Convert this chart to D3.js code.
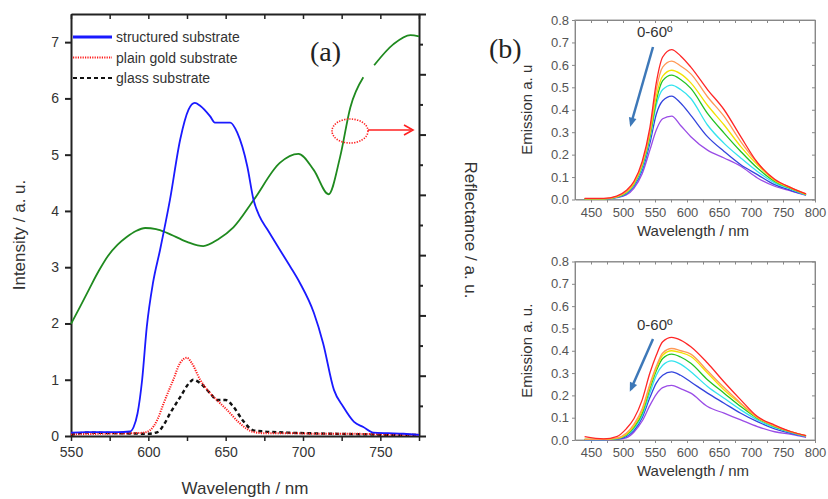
<!DOCTYPE html>
<html>
<head>
<meta charset="utf-8">
<script src="https://cdn.jsdelivr.net/npm/d3@7"></script>
<style>
  body { margin: 0; background: #fff; }
  svg { display: block; font-family: "Liberation Sans", Arial, sans-serif; }
  .axis text { fill: #333; }
  .axis path, .axis line { stroke: #222; }
  .paneB .axis text { fill: #555; }
  .paneB .axis path, .paneB .axis line { stroke: #888; }
</style>
</head>
<body>
<svg id="chart" width="828" height="499"></svg>
<script>
"use strict";

// panel (a): emission spectra
const structuredNm = [550, 560, 570, 580, 588, 590.5, 593, 596, 599, 603, 607.6, 614, 620.6, 626, 630, 633.5, 640, 643, 653, 657.5, 664, 668, 672, 677, 685, 692, 698, 707, 713, 720, 726, 733, 739, 745.5, 755, 765, 775];
const structuredInt = [0.06, 0.07, 0.07, 0.07, 0.08, 0.16, 0.4, 1.0, 1.94, 2.72, 3.31, 4.2, 5.27, 5.8, 5.92, 5.87, 5.68, 5.57, 5.57, 5.39, 4.79, 4.2, 3.9, 3.67, 3.31, 3.0, 2.72, 2.19, 1.65, 0.82, 0.52, 0.25, 0.16, 0.06, 0.05, 0.04, 0.02];

const goldNm = [550, 570, 590, 597, 601, 606, 610, 616, 620.6, 625, 628, 633.5, 640, 645, 651, 659, 668, 675, 690, 710, 730, 750, 775];
const goldInt = [0.03, 0.04, 0.05, 0.06, 0.1, 0.3, 0.59, 0.99, 1.3, 1.39, 1.3, 1.0, 0.76, 0.62, 0.46, 0.23, 0.07, 0.05, 0.05, 0.04, 0.04, 0.03, 0.02];

const glassNm = [550, 560, 580, 600, 606, 610, 614, 620.6, 627, 629, 633.5, 640, 644.5, 650, 655, 661, 668, 675, 690, 720, 740, 760, 775];
const glassInt = [0.02, 0.06, 0.05, 0.04, 0.07, 0.2, 0.4, 0.69, 0.96, 1.0, 0.94, 0.76, 0.64, 0.64, 0.52, 0.28, 0.1, 0.08, 0.06, 0.04, 0.03, 0.02, 0.02];

// reflectance (right axis), null = gap in the trace
const reflNm = [550, 556, 562, 568, 574, 580, 586, 592, 598, 605, 612, 625, 635.5, 645, 655, 668, 685, 697, 707, 716.5, 724, 730.6, 739, 742, 746, 758.5, 769.5, 775];
const reflVal = [1.86, 2.15, 2.45, 2.74, 2.99, 3.17, 3.3, 3.4, 3.45, 3.43, 3.37, 3.22, 3.15, 3.26, 3.46, 3.91, 4.53, 4.68, 4.41, 4.01, 4.63, 5.45, 5.95, null, 6.15, 6.5, 6.65, 6.63];

const legendLabels = ["structured substrate", "plain gold substrate", "glass substrate"];

// panel (b): angle dependent emission, 0-60 degrees
const emNm = [440, 470, 490, 505, 517, 530, 542, 552, 562, 576, 590, 606, 632, 658, 684, 710, 737, 763, 786];
const angleColors = ["#ff2626", "#ff9955", "#f2e200", "#22c322", "#33e3ee", "#3344dd", "#9a4ce6"];

const topRed = [0.005, 0.005, 0.015, 0.04, 0.08, 0.17, 0.32, 0.52, 0.635, 0.668, 0.64, 0.59, 0.49, 0.40, 0.28, 0.165, 0.09, 0.052, 0.025];
const topOrange = [0.004, 0.004, 0.013, 0.035, 0.075, 0.16, 0.30, 0.49, 0.59, 0.617, 0.595, 0.56, 0.458, 0.37, 0.258, 0.163, 0.088, 0.052, 0.025];
const topYellow = [0.003, 0.003, 0.012, 0.032, 0.07, 0.155, 0.29, 0.46, 0.55, 0.576, 0.56, 0.52, 0.42, 0.332, 0.236, 0.155, 0.085, 0.05, 0.023];
const topGreen = [0.003, 0.003, 0.011, 0.03, 0.068, 0.15, 0.28, 0.44, 0.53, 0.554, 0.535, 0.495, 0.384, 0.296, 0.214, 0.14, 0.081, 0.048, 0.022];
const topCyan = [0.003, 0.003, 0.01, 0.028, 0.064, 0.14, 0.27, 0.42, 0.49, 0.51, 0.49, 0.45, 0.332, 0.25, 0.185, 0.125, 0.074, 0.045, 0.02];
const topBlue = [0.002, 0.002, 0.009, 0.025, 0.058, 0.13, 0.25, 0.38, 0.44, 0.461, 0.43, 0.375, 0.28, 0.214, 0.155, 0.111, 0.066, 0.04, 0.02];
const topViolet = [0.002, 0.002, 0.008, 0.02, 0.05, 0.115, 0.22, 0.31, 0.36, 0.372, 0.33, 0.28, 0.22, 0.185, 0.148, 0.096, 0.059, 0.037, 0.018];

const bottomRed = [0.015, 0.005, 0.015, 0.05, 0.095, 0.18, 0.30, 0.38, 0.44, 0.46, 0.448, 0.418, 0.345, 0.26, 0.18, 0.105, 0.067, 0.037, 0.02];
const bottomOrange = [0.003, 0.003, 0.008, 0.03, 0.07, 0.14, 0.25, 0.33, 0.39, 0.41, 0.40, 0.385, 0.31, 0.235, 0.165, 0.102, 0.063, 0.036, 0.019];
const bottomYellow = [0.003, 0.003, 0.007, 0.025, 0.062, 0.13, 0.24, 0.32, 0.38, 0.40, 0.392, 0.374, 0.30, 0.224, 0.161, 0.1, 0.062, 0.036, 0.018];
const bottomGreen = [0.003, 0.003, 0.006, 0.022, 0.057, 0.12, 0.23, 0.31, 0.365, 0.385, 0.372, 0.344, 0.27, 0.21, 0.15, 0.097, 0.06, 0.035, 0.018];
const bottomCyan = [0.002, 0.002, 0.005, 0.02, 0.05, 0.11, 0.21, 0.29, 0.335, 0.355, 0.34, 0.306, 0.24, 0.187, 0.135, 0.09, 0.055, 0.033, 0.016];
const bottomBlue = [0.002, 0.002, 0.004, 0.015, 0.042, 0.10, 0.19, 0.255, 0.29, 0.305, 0.29, 0.26, 0.21, 0.165, 0.12, 0.082, 0.05, 0.03, 0.015];
const bottomViolet = [0.002, 0.002, 0.003, 0.01, 0.035, 0.085, 0.155, 0.205, 0.235, 0.245, 0.23, 0.21, 0.15, 0.12, 0.09, 0.06, 0.037, 0.025, 0.012];

const svg = d3.select("#chart");

// ---------- panel (a) ----------
const A = { left: 71, right: 419, top: 14, bottom: 436 };
const xA = d3.scaleLinear().domain([550, 775]).range([A.left, A.right]);
const yInt = d3.scaleLinear().domain([0, 7.5]).range([A.bottom, A.top]);
const yRefl = d3.scaleLinear().domain([0, 7]).range([A.bottom, A.top]);

const paneA = svg.append("g").attr("class", "paneA");
const nmTicks = d3.range(550, 776, 25);

paneA.append("g").attr("class", "axis")
  .attr("transform", `translate(0,${A.bottom})`)
  .call(d3.axisBottom(xA).tickValues(nmTicks).tickSize(5).tickSizeOuter(0)
    .tickFormat((d) => (d % 50 === 0 ? d : "")))
  .call((g) => g.selectAll("text").attr("font-size", 14).attr("dy", "0.9em"))
  .call((g) => g.selectAll("line").attr("stroke-width", 1.5))
  .call((g) => g.select(".domain").attr("stroke-width", 2));

paneA.append("g").attr("class", "axis")
  .attr("transform", `translate(0,${A.top})`)
  .call(d3.axisBottom(xA).tickValues(nmTicks).tickSize(5).tickSizeOuter(0).tickFormat(""))
  .call((g) => g.selectAll("line").attr("stroke-width", 1.5))
  .call((g) => g.select(".domain").attr("stroke-width", 2));

paneA.append("g").attr("class", "axis")
  .attr("transform", `translate(${A.left},0)`)
  .call(d3.axisLeft(yInt).tickValues(d3.range(0, 8)).tickSize(6).tickSizeOuter(0))
  .call((g) => g.selectAll("text").attr("font-size", 14).attr("x", -12))
  .call((g) => g.selectAll("line").attr("stroke-width", 2))
  .call((g) => g.select(".domain").attr("stroke-width", 2));

paneA.append("g").attr("class", "axis")
  .attr("transform", `translate(${A.right},0)`)
  .call(d3.axisRight(yRefl).tickValues(d3.range(0, 7.01, 0.5)).tickSizeOuter(0).tickFormat(""))
  .call((g) => g.selectAll(".tick line")
    .attr("x2", (d) => (d % 1 === 0 ? 7 : 4)).attr("stroke-width", 2))
  .call((g) => g.select(".domain").attr("stroke-width", 2));

const lineOf = (xs, ys, xScale, yScale) =>
  d3.line()
    .defined((i) => ys[i] !== null)
    .x((i) => xScale(xs[i]))
    .y((i) => yScale(ys[i]))
    .curve(d3.curveMonotoneX)(d3.range(xs.length));

paneA.append("path")
  .attr("d", lineOf(reflNm, reflVal, xA, yRefl))
  .attr("fill", "none").attr("stroke", "#1f8a1f").attr("stroke-width", 1.8);

paneA.append("path")
  .attr("d", lineOf(glassNm, glassInt, xA, yInt))
  .attr("fill", "none").attr("stroke", "#111").attr("stroke-width", 2.4)
  .attr("stroke-dasharray", "4,3");

paneA.append("path")
  .attr("d", lineOf(goldNm, goldInt, xA, yInt))
  .attr("fill", "none").attr("stroke", "#ff1a1a").attr("stroke-width", 2)
  .attr("stroke-dasharray", "1.2,1.2");

paneA.append("path")
  .attr("d", lineOf(structuredNm, structuredInt, xA, yInt))
  .attr("fill", "none").attr("stroke", "#1a1aff").attr("stroke-width", 1.8);

// legend
const legendStyles = [
  { stroke: "#1a1aff", width: 3, dash: null },
  { stroke: "#ff1a1a", width: 2, dash: "1.2,1.2" },
  { stroke: "#111", width: 2, dash: "4,3" }
];
const legend = paneA.append("g").attr("transform", `translate(${A.left + 2},37)`);
legendLabels.forEach((label, i) => {
  const row = legend.append("g").attr("transform", `translate(0,${i * 20.5})`);
  row.append("line").attr("x1", 0).attr("x2", 39).attr("y1", 0).attr("y2", 0)
    .attr("stroke", legendStyles[i].stroke).attr("stroke-width", legendStyles[i].width)
    .attr("stroke-dasharray", legendStyles[i].dash);
  row.append("text").attr("x", 43).attr("y", 5).attr("font-size", 14)
    .attr("fill", "#333").text(label);
});

paneA.append("text").attr("x", 310).attr("y", 61)
  .attr("font-family", "'Liberation Serif', 'Times New Roman', serif")
  .attr("font-size", 28).attr("fill", "#222").text("(a)");

// dotted ellipse pointing at the reflectance axis
paneA.append("ellipse").attr("cx", 350).attr("cy", 131).attr("rx", 18).attr("ry", 12)
  .attr("fill", "none").attr("stroke", "#ff2020").attr("stroke-width", 1.6)
  .attr("stroke-dasharray", "1.3,1.3");
paneA.append("line").attr("x1", 368).attr("x2", 411).attr("y1", 130).attr("y2", 130)
  .attr("stroke", "#ff2020").attr("stroke-width", 1.6);
paneA.append("path").attr("d", "M404,125 L413,130 L404,135")
  .attr("fill", "none").attr("stroke", "#ff2020").attr("stroke-width", 1.6);

paneA.append("text")
  .attr("transform", `translate(25,${(A.top + A.bottom) / 2 + 10}) rotate(-90)`)
  .attr("text-anchor", "middle").attr("font-size", 17).attr("fill", "#333")
  .text("Intensity / a. u.");
paneA.append("text")
  .attr("transform", `translate(465,${(A.top + A.bottom) / 2 + 5}) rotate(90)`)
  .attr("text-anchor", "middle").attr("font-size", 17).attr("fill", "#333")
  .text("Reflectance / a. u.");
paneA.append("text").attr("x", 245).attr("y", 494)
  .attr("text-anchor", "middle").attr("font-size", 17).attr("fill", "#333")
  .text("Wavelength / nm");

// ---------- panel (b) ----------
const xB = d3.scaleLinear().domain([425, 800]).range([575, 815]);

const drawAnglePane = (top, bottom, series, yTitle, labelY, arrow) => {
  const y = d3.scaleLinear().domain([0, 0.8]).range([bottom, top]);
  const g = svg.append("g").attr("class", "paneB");

  g.append("rect").attr("x", 575).attr("y", top).attr("width", 240).attr("height", bottom - top)
    .attr("fill", "none").attr("stroke", "#999").attr("stroke-width", 1);

  g.append("g").attr("class", "axis")
    .attr("transform", `translate(0,${bottom})`)
    .call(d3.axisBottom(xB).tickValues(d3.range(450, 801, 25)).tickSize(3).tickSizeOuter(0)
      .tickFormat((d) => (d % 50 === 0 ? d : "")))
    .call((g2) => g2.selectAll("text").attr("font-size", 13).attr("dy", "0.85em"));

  g.append("g").attr("class", "axis")
    .attr("transform", `translate(0,${top})`)
    .call(d3.axisBottom(xB).tickValues(d3.range(450, 801, 25)).tickSize(3).tickSizeOuter(0).tickFormat(""));

  g.append("g").attr("class", "axis")
    .attr("transform", "translate(575,0)")
    .call(d3.axisLeft(y).tickValues(d3.range(0, 0.81, 0.1)).tickSize(3).tickSizeOuter(0)
      .tickFormat(d3.format(".1f")))
    .call((g2) => g2.selectAll("text").attr("font-size", 13).attr("x", -6));

  g.append("g").attr("class", "axis")
    .attr("transform", "translate(815,0)")
    .call(d3.axisLeft(y).tickValues(d3.range(0, 0.81, 0.1)).tickSize(3).tickSizeOuter(0).tickFormat(""));

  series.slice().reverse().forEach((vals, i) => {
    g.append("path")
      .attr("d", lineOf(emNm, vals, xB, y))
      .attr("fill", "none")
      .attr("stroke", angleColors[series.length - 1 - i])
      .attr("stroke-width", 1.3);
  });

  g.append("text")
    .attr("transform", `translate(532,${(top + bottom) / 2}) rotate(-90)`)
    .attr("text-anchor", "middle").attr("font-size", 15).attr("fill", "#333")
    .text(yTitle);
  g.append("text").attr("x", 693).attr("y", bottom + 36)
    .attr("text-anchor", "middle").attr("font-size", 15).attr("fill", "#333")
    .text("Wavelength / nm");

  g.append("text").attr("x", 637).attr("y", labelY)
    .attr("font-size", 15).attr("fill", "#333").text("0-60º");
  g.append("line").attr("x1", arrow[0]).attr("y1", arrow[1]).attr("x2", arrow[2]).attr("y2", arrow[3])
    .attr("stroke", "#3d78b8").attr("stroke-width", 2.5);
  const ang = Math.atan2(arrow[3] - arrow[1], arrow[2] - arrow[0]);
  const hx = arrow[2] + 3 * Math.cos(ang), hy = arrow[3] + 3 * Math.sin(ang);
  g.append("path")
    .attr("d", `M${hx},${hy} L${hx - 10 * Math.cos(ang - 0.4)},${hy - 10 * Math.sin(ang - 0.4)} L${hx - 10 * Math.cos(ang + 0.4)},${hy - 10 * Math.sin(ang + 0.4)} Z`)
    .attr("fill", "#3d78b8");
};

drawAnglePane(20, 199.5,
  [topRed, topOrange, topYellow, topGreen, topCyan, topBlue, topViolet],
  "Emission a. u", 37, [653, 47, 631, 124]);
drawAnglePane(261.5, 440,
  [bottomRed, bottomOrange, bottomYellow, bottomGreen, bottomCyan, bottomBlue, bottomViolet],
  "Emission a. u.", 330, [653, 339, 631, 389]);

svg.append("text").attr("x", 489).attr("y", 58)
  .attr("font-family", "'Liberation Serif', 'Times New Roman', serif")
  .attr("font-size", 28).attr("fill", "#222").text("(b)");
</script>
</body>
</html>
